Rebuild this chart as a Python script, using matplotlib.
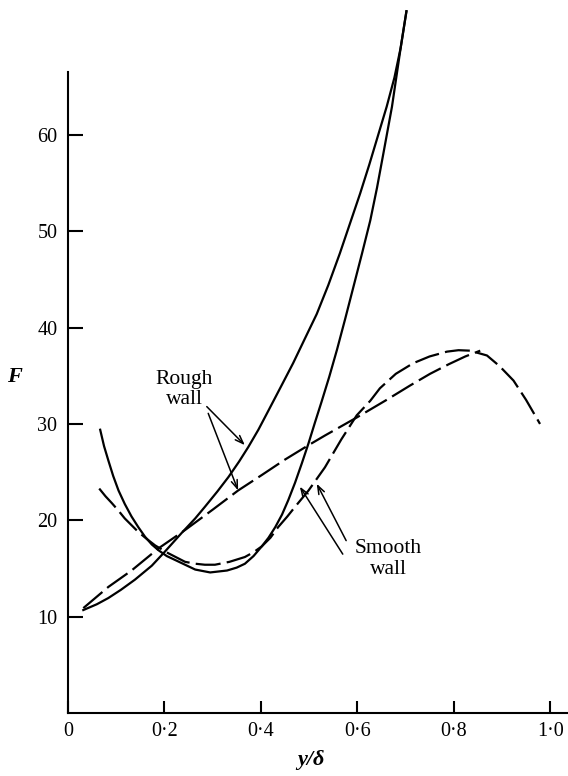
import matplotlib
matplotlib.use('Agg')
import matplotlib.pyplot as plt

# Rough wall, solid curve
rough_solid_x = [0.032, 0.060, 0.084, 0.110, 0.139, 0.174, 0.201, 0.236, 0.264, 0.284,
                 0.310, 0.333, 0.355, 0.374, 0.395, 0.416, 0.440, 0.467, 0.490, 0.516,
                 0.540, 0.564, 0.585, 0.606, 0.625, 0.640, 0.661, 0.677, 0.690, 0.702]
rough_solid_F = [10.7, 11.3, 11.95, 12.8, 13.85, 15.3, 16.75, 18.7, 20.2, 21.4,
                 23.0, 24.5, 26.1, 27.6, 29.4, 31.4, 33.7, 36.3, 38.7, 41.4,
                 44.4, 47.7, 50.8, 53.9, 56.9, 59.4, 62.9, 65.9, 69.0, 72.8]

# Rough wall, dashed curve
rough_dash_x = [0.032, 0.084, 0.132, 0.188, 0.243, 0.300, 0.353, 0.402, 0.450, 0.499,
                0.533, 0.600, 0.661, 0.710, 0.751, 0.790, 0.824, 0.855]
rough_dash_F = [10.9, 13.1, 14.8, 17.1, 19.0, 21.1, 23.1, 24.7, 26.3, 27.8,
                28.8, 30.7, 32.5, 34.0, 35.2, 36.2, 37.0, 37.6]

# Smooth wall, solid curve
smooth_solid_x = [0.067, 0.075, 0.084, 0.094, 0.105, 0.118, 0.132, 0.146, 0.160, 0.174,
                  0.188, 0.205, 0.222, 0.243, 0.264, 0.295, 0.330, 0.350, 0.367, 0.385,
                  0.402, 0.416, 0.430, 0.444, 0.457, 0.471, 0.485, 0.499, 0.512, 0.526,
                  0.542, 0.558, 0.575, 0.592, 0.610, 0.627, 0.641, 0.654, 0.672, 0.690,
                  0.702]
smooth_solid_F = [29.4, 27.7, 26.2, 24.6, 23.1, 21.7, 20.4, 19.3, 18.3, 17.5,
                  16.9, 16.3, 15.9, 15.4, 14.9, 14.6, 14.8, 15.1, 15.5, 16.3,
                  17.3, 18.2, 19.3, 20.6, 22.1, 23.9, 25.9, 28.0, 30.1, 32.3,
                  34.9, 37.7, 40.9, 44.2, 47.7, 51.1, 54.5, 58.0, 62.9, 69.0,
                  72.8]

# Smooth wall, dashed curve
smooth_dash_x = [0.065, 0.078, 0.091, 0.105, 0.118, 0.132, 0.146, 0.163, 0.181, 0.208,
                 0.243, 0.265, 0.284, 0.305, 0.335, 0.367, 0.385, 0.402, 0.420, 0.436,
                 0.455, 0.471, 0.499, 0.533, 0.567, 0.599, 0.627, 0.647, 0.680, 0.716,
                 0.750, 0.786, 0.810, 0.834, 0.869, 0.895, 0.924, 0.950, 0.979]
smooth_dash_F = [23.3, 22.5, 21.8, 21.0, 20.2, 19.5, 18.8, 18.1, 17.4, 16.6,
                 15.7, 15.5, 15.4, 15.4, 15.7, 16.2, 16.7, 17.3, 18.2, 19.3,
                 20.4, 21.4, 23.1, 25.5, 28.4, 30.9, 32.4, 33.7, 35.2, 36.3,
                 37.0, 37.5, 37.65, 37.6, 37.1, 36.0, 34.5, 32.5, 30.0]

x_ticks = [0, 0.2, 0.4, 0.6, 0.8, 1.0]
x_tick_labels = ['0', '0·2', '0·4', '0·6', '0·8', '1·0']
y_ticks = [10, 20, 30, 40, 50, 60]
y_tick_labels = ['10', '20', '30', '40', '50', '60']


def main():
    plt.rcParams['font.family'] = ['Liberation Serif', 'DejaVu Serif']
    plt.rcParams['lines.scale_dashes'] = False

    fig = plt.figure(figsize=(5.68, 7.76), dpi=100)
    ax = fig.add_axes([0.1195, 0.0809, 0.8805, 0.8263])

    lw = 1.6
    dash = (18, 4.5)

    # the two solid curves run past the top of the axis, so no clipping
    ax.plot(rough_solid_x, rough_solid_F, color='black', lw=lw, clip_on=False,
            solid_joinstyle='round')
    ax.plot(smooth_solid_x, smooth_solid_F, color='black', lw=lw, clip_on=False,
            solid_joinstyle='round')
    ax.plot(rough_dash_x, rough_dash_F, color='black', lw=lw, dashes=dash, clip_on=False)
    ax.plot(smooth_dash_x, smooth_dash_F, color='black', lw=lw, dashes=dash, clip_on=False)

    ax.set_xlim(0, 1.037)
    ax.set_ylim(0, 66.5)

    # axes look: only left and bottom lines, ticks pointing inwards
    ax.spines['top'].set_visible(False)
    ax.spines['right'].set_visible(False)
    ax.spines['left'].set_linewidth(1.5)
    ax.spines['bottom'].set_linewidth(1.5)

    ax.set_xticks(x_ticks)
    ax.set_xticklabels(x_tick_labels)
    ax.set_yticks(y_ticks)
    ax.set_yticklabels(y_tick_labels)
    ax.tick_params(axis='x', direction='in', length=9, width=1.5, pad=6.5, labelsize=14.5)
    ax.tick_params(axis='y', direction='in', length=11, width=1.5, pad=7.5, labelsize=14.5)

    ax.set_xlabel('y/δ', fontsize=16, fontstyle='italic', fontweight='bold')
    ax.xaxis.set_label_coords(0.485, -0.073)
    ax.xaxis.label.set_va('center')
    ax.set_ylabel('F', fontsize=16, fontstyle='italic', fontweight='bold', rotation=0)
    ax.yaxis.set_label_coords(-0.106, 0.525)
    ax.yaxis.label.set_va('center')
    ax.yaxis.label.set_ha('center')

    # labels with arrows
    arrow = dict(arrowstyle='->,head_length=0.6,head_width=0.22', color='black', lw=1.1,
                 shrinkA=0, shrinkB=0)
    ax.text(0.242, 33.6, 'Rough\nwall', ha='center', va='center', fontsize=15.5,
            linespacing=1.1)
    ax.annotate('', xy=(0.367, 27.8), xytext=(0.288, 31.8), arrowprops=arrow)
    ax.annotate('', xy=(0.353, 23.1), xytext=(0.291, 31.1), arrowprops=arrow)

    ax.text(0.665, 16.0, 'Smooth\nwall', ha='center', va='center', fontsize=15.5,
            linespacing=1.1)
    ax.annotate('', xy=(0.481, 23.5), xytext=(0.570, 16.5), arrowprops=arrow)
    ax.annotate('', xy=(0.516, 23.8), xytext=(0.577, 17.9), arrowprops=arrow)

    fig.savefig('out.png', dpi=100)


if __name__ == "__main__":
    main()
